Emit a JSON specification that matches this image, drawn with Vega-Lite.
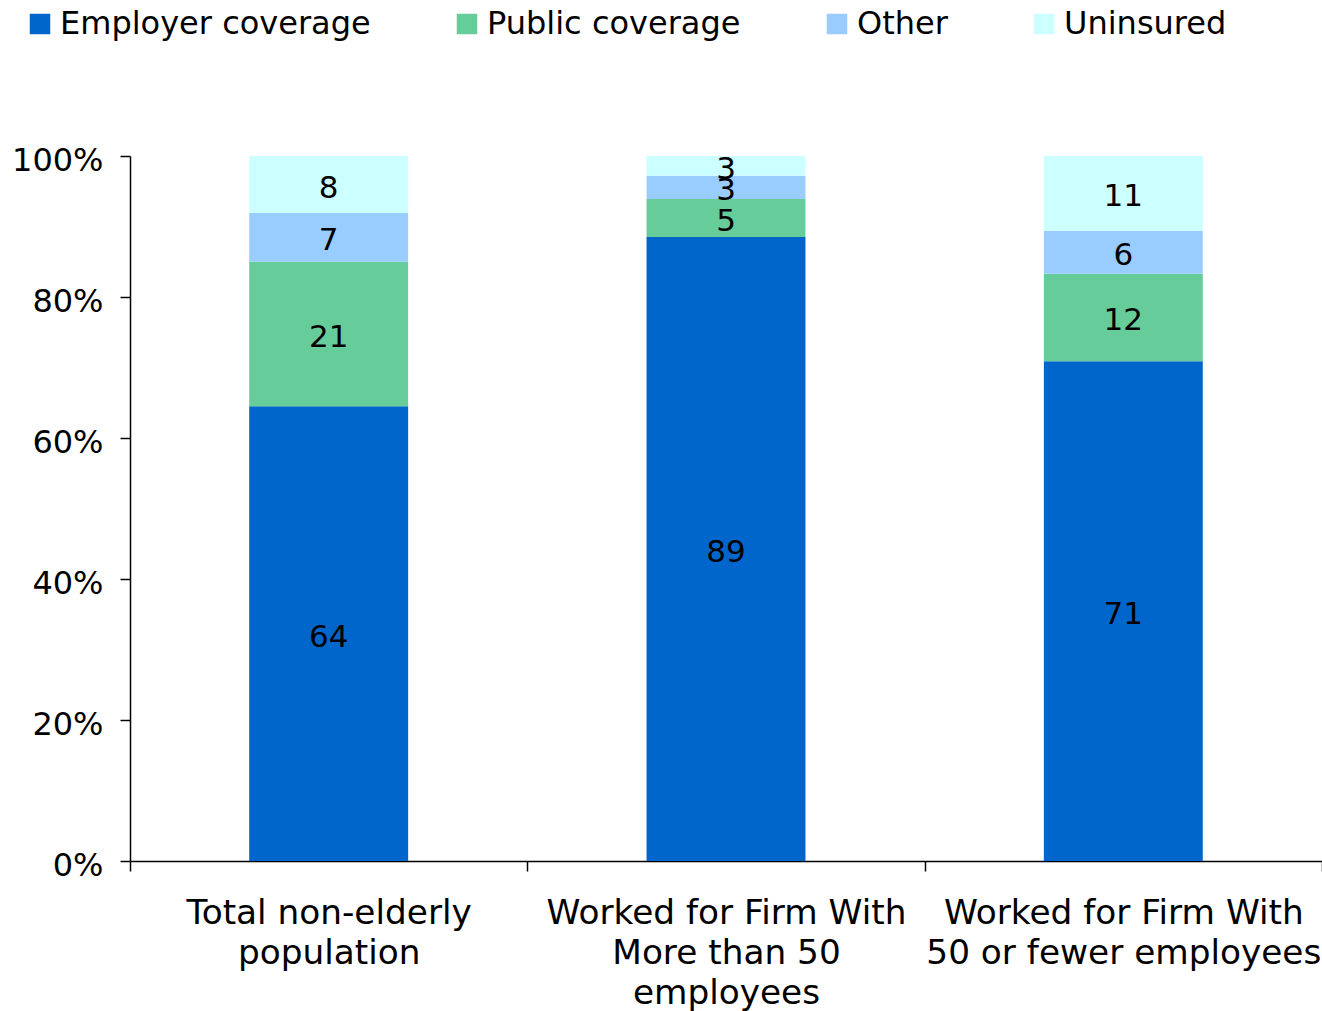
{
  "$schema": "https://vega.github.io/schema/vega-lite/v6.json",
  "width": 1192,
  "height": 705,
  "autosize": {"type": "none"},
  "padding": {"left": 130, "top": 156, "right": 0, "bottom": 150},
  "background": "white",
  "config": {
    "view": {"stroke": null},
    "font": "DejaVu Sans",
    "axis": {"domainColor": "black", "tickColor": "black", "labelColor": "black", "grid": false, "domainWidth": 1.5, "tickWidth": 1.5}
  },
  "data": {
    "values": [
      {"group": "Total non-elderly|population", "type": "Employer coverage", "ord": 1, "value": 64.5, "label": "64"},
      {"group": "Total non-elderly|population", "type": "Public coverage", "ord": 2, "value": 20.5, "label": "21"},
      {"group": "Total non-elderly|population", "type": "Other", "ord": 3, "value": 6.9, "label": "7"},
      {"group": "Total non-elderly|population", "type": "Uninsured", "ord": 4, "value": 8.1, "label": "8"},
      {"group": "Worked for Firm With|More than 50|employees", "type": "Employer coverage", "ord": 1, "value": 88.5, "label": "89"},
      {"group": "Worked for Firm With|More than 50|employees", "type": "Public coverage", "ord": 2, "value": 5.4, "label": "5"},
      {"group": "Worked for Firm With|More than 50|employees", "type": "Other", "ord": 3, "value": 3.3, "label": "3"},
      {"group": "Worked for Firm With|More than 50|employees", "type": "Uninsured", "ord": 4, "value": 2.8, "label": "3"},
      {"group": "Worked for Firm With|50 or fewer employees", "type": "Employer coverage", "ord": 1, "value": 70.9, "label": "71"},
      {"group": "Worked for Firm With|50 or fewer employees", "type": "Public coverage", "ord": 2, "value": 12.4, "label": "12"},
      {"group": "Worked for Firm With|50 or fewer employees", "type": "Other", "ord": 3, "value": 6.1, "label": "6"},
      {"group": "Worked for Firm With|50 or fewer employees", "type": "Uninsured", "ord": 4, "value": 10.6, "label": "11"}
    ]
  },
  "encoding": {
    "x": {
      "field": "group",
      "type": "nominal",
      "sort": ["Total non-elderly|population", "Worked for Firm With|More than 50|employees", "Worked for Firm With|50 or fewer employees"],
      "scale": {"paddingInner": 0, "paddingOuter": 0},
      "axis": {
        "title": null,
        "labelAngle": 0,
        "tickBand": "extent",
        "tickSize": 10,
        "labelFontSize": 34.3,
        "labelLineHeight": 40,
        "labelPadding": 25,
        "labelLimit": 0,
        "labelExpr": "split(datum.label, '|')"
      }
    }
  },
  "layer": [
    {
      "mark": {"type": "bar", "width": {"band": 0.4}},
      "encoding": {
        "y": {
          "field": "value",
          "type": "quantitative",
          "stack": "zero",
          "scale": {"domain": [0, 100], "nice": false},
          "axis": {
            "title": null,
            "values": [0, 20, 40, 60, 80, 100],
            "tickSize": 10,
            "labelFontSize": 32,
            "labelPadding": 17,
            "labelOffset": 4,
            "labelExpr": "datum.value + '%'"
          }
        },
        "color": {
          "field": "type",
          "type": "nominal",
          "scale": {
            "domain": ["Employer coverage", "Public coverage", "Other", "Uninsured"],
            "range": ["#0066CC", "#66CC99", "#99CCFF", "#CCFFFF"]
          },
          "legend": {
            "title": null,
            "orient": "none",
            "direction": "horizontal",
            "legendX": -106,
            "legendY": -148,
            "symbolType": "square",
            "symbolSize": 420,
            "symbolStrokeWidth": 0,
            "labelFontSize": 32,
            "labelColor": "black",
            "labelOffset": 4,
            "columnPadding": 80,
            "labelLimit": 0
          }
        },
        "order": {"field": "ord", "type": "quantitative"}
      }
    },
    {
      "mark": {"type": "text", "fontSize": 31, "baseline": "middle", "align": "center", "color": "black", "dy": 4},
      "encoding": {
        "y": {"field": "value", "type": "quantitative", "stack": "zero", "bandPosition": 0.5},
        "text": {"field": "label"},
        "order": {"field": "ord", "type": "quantitative"},
        "detail": {"field": "type"}
      }
    }
  ]
}
